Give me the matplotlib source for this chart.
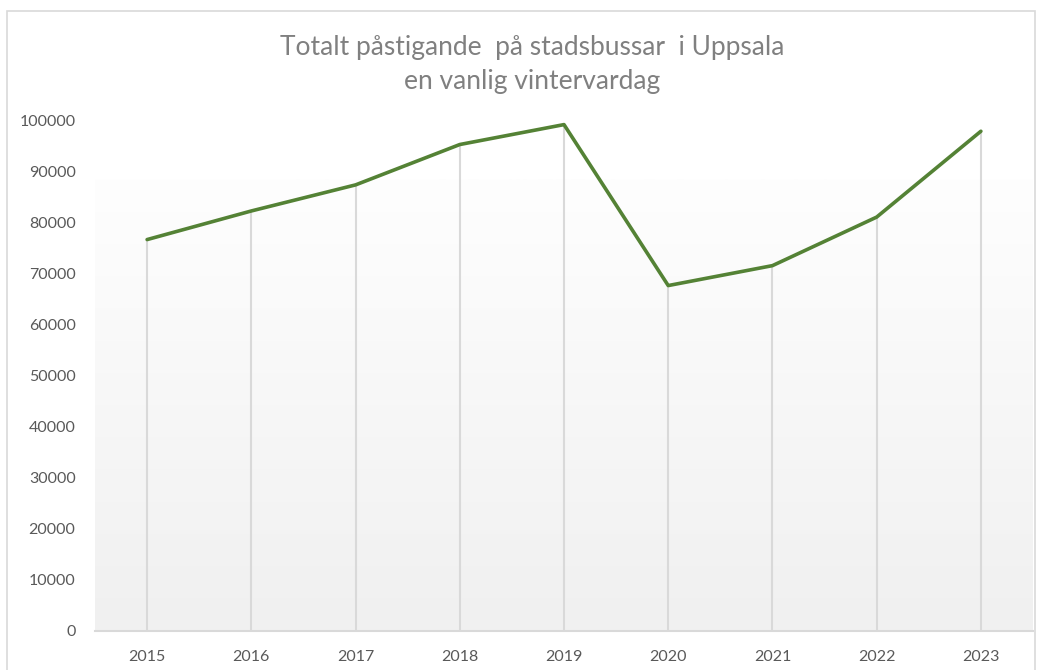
import numpy as np
import matplotlib.pyplot as plt
from matplotlib.patches import Rectangle

years = ['2015', '2016', '2017', '2018', '2019', '2020', '2021', '2022', '2023']
passengers = [76600, 82200, 87300, 95200, 99100, 67600, 71500, 81000, 97800]
yticks = list(range(0, 100001, 10000))

plt.rcParams['font.family'] = ['Lato', 'DejaVu Sans']

W, H = 1042, 670
fig = plt.figure(figsize=(W / 100, H / 100), dpi=100)
fig.patch.set_facecolor('white')

# chart frame
fig.patches.append(Rectangle((7 / W, -0.01), 1028 / W, (H - 11) / H + 0.01,
                             transform=fig.transFigure, fill=False,
                             edgecolor='#d9d9d9', linewidth=1.2))

ax = fig.add_axes([95 / W, (H - 631) / H, 938 / W, 511 / H])
ax.set_xlim(-0.5, len(years) - 0.5)
ax.set_ylim(0, 100000)
ax.patch.set_alpha(0)

# gradient plot background (Excel style)
grad = np.linspace(0, 1, 256).reshape(-1, 1)
ax.imshow(grad, aspect='auto', cmap=plt.matplotlib.colors.LinearSegmentedColormap.from_list(
    'g', ['#f0f0f0', '#fefefe']), origin='lower',
    extent=(-0.5, len(years) - 0.5, 0, 88300), zorder=0)

x = np.arange(len(years))
# drop lines
ax.vlines(x, 0, passengers, color='#d9d9d9', linewidth=1.5, zorder=1)
ax.plot(x, passengers, color='#548235', linewidth=2.6, solid_capstyle='round',
        solid_joinstyle='round', zorder=3, clip_on=False)

for s in ['top', 'right', 'left']:
    ax.spines[s].set_visible(False)
ax.spines['bottom'].set_color('#d9d9d9')
ax.spines['bottom'].set_linewidth(1.5)

ax.set_xticks(x)
ax.set_xticklabels(years)
ax.set_yticks(yticks)
ax.set_yticklabels([str(v) for v in yticks])
ax.tick_params(axis='both', length=0, colors='#595959', labelsize=11.5)
ax.tick_params(axis='x', pad=14)
ax.tick_params(axis='y', pad=14)

fig.text(532 / W, 1 - 64 / H, 'Totalt påstigande  på stadsbussar  i Uppsala\nen vanlig vintervardag',
         ha='center', va='center', fontsize=19, color='#808080', linespacing=1.45)

fig.savefig('out.png', dpi=100)
